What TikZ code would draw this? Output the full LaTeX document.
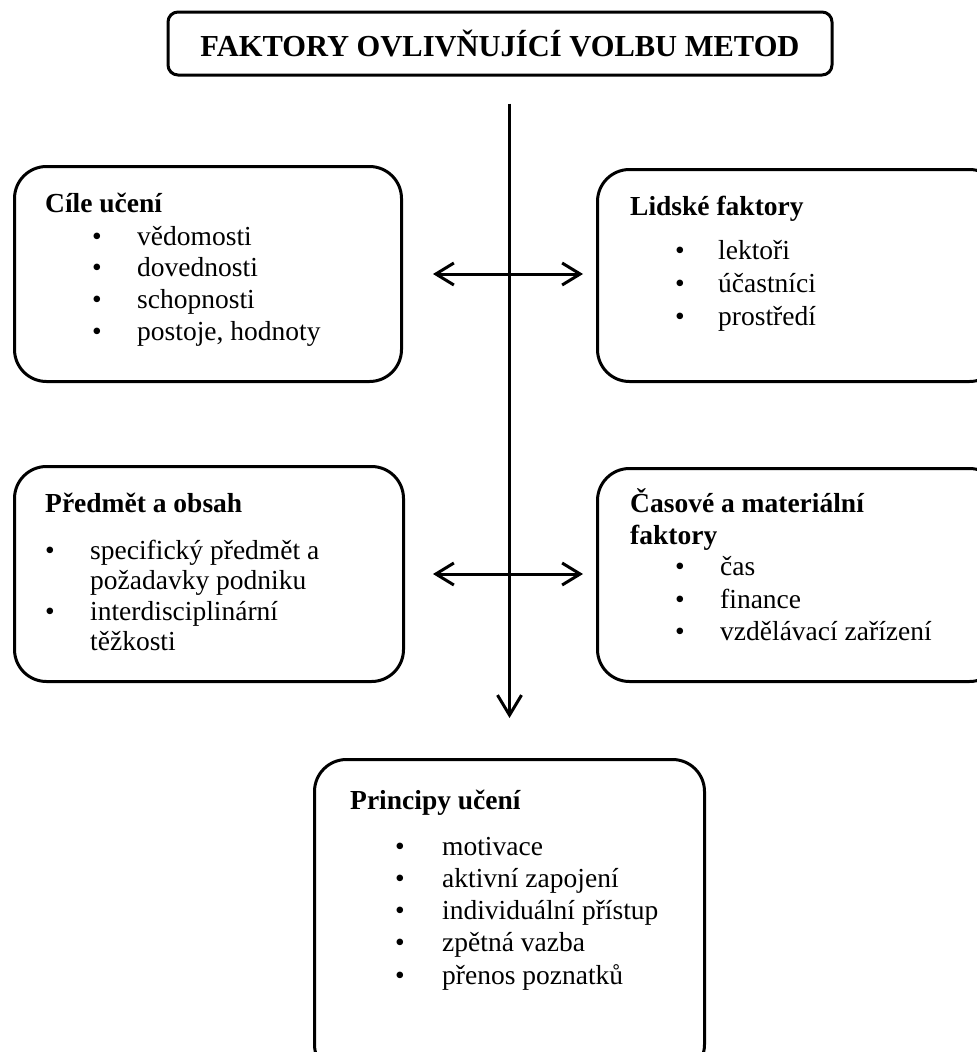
\documentclass[tikz,border=0pt]{standalone}
\usepackage{fontspec}
\setmainfont{Liberation Serif}
\usetikzlibrary{arrows.meta,positioning}

\tikzset{
	box/.style={draw, line width=3pt, rounded corners=32pt, anchor=north west, inner sep=0pt},
	titlebox/.style={draw, line width=3pt, rounded corners=10pt, inner sep=0pt, font=\fontsize{30.5}{36}\selectfont\bfseries},
	head/.style={anchor=base west, inner sep=0pt, font=\fontsize{27.5}{32}\selectfont\bfseries},
	entry/.style={anchor=base west, inner sep=0pt},
	dot/.style={anchor=base west, inner sep=0pt},
	link/.style={line width=3pt, {Straight Barb[length=18pt,width=22pt]}-{Straight Barb[length=18pt,width=22pt]}},
	flow/.style={line width=3pt, -{Straight Barb[length=20pt,width=24pt]}}
}

\begin{document}
\begin{tikzpicture}[x=1pt, y=-1pt, font=\fontsize{27.5}{32}\selectfont]
	% Page frame
	\useasboundingbox (0,0) rectangle (977,1052);
	\clip (0,0) rectangle (977,1052);

	% Title
	\node[titlebox, minimum width=664pt, minimum height=63pt] (title) at (500,43.5) {FAKTORY OVLIVŇUJÍCÍ VOLBU METOD};

	% Cíle učení
	\node[box, minimum width=387pt, minimum height=215pt] (goals) at (13,165) {};
	\node[head] (goals-head) at (45,212) {Cíle učení};
	\foreach \t [count=\i] in {vědomosti, dovednosti, schopnosti, {postoje, hodnoty}} {
		\node[dot] (goals-dot-\i) at (92,{213.3+31.7*\i}) {•};
		\node[entry] (goals-item-\i) at (137,{213.3+31.7*\i}) {\t};
	}

	% Lidské faktory
	\node[box, minimum width=404pt, minimum height=212pt] (people) at (596,168) {};
	\node[head] (people-head) at (630,215) {Lidské faktory};
	\foreach \t [count=\i] in {lektoři, účastníci, prostředí} {
		\node[dot] (people-dot-\i) at (675,{226+33*\i}) {•};
		\node[entry] (people-item-\i) at (718,{226+33*\i}) {\t};
	}

	% Předmět a obsah
	\node[box, minimum width=389pt, minimum height=215pt] (content) at (13,465) {};
	\node[head] (content-head) at (45,512) {Předmět a obsah};
	\node[dot] (content-dot-1) at (45,559) {•};
	\node[entry] (content-item-1a) at (90,559) {specifický předmět a};
	\node[entry] (content-item-1b) at (90,589) {požadavky podniku};
	\node[dot] (content-dot-2) at (45,620) {•};
	\node[entry] (content-item-2a) at (90,620) {interdisciplinární};
	\node[entry] (content-item-2b) at (90,650) {těžkosti};

	% Časové a materiální faktory
	\node[box, minimum width=404pt, minimum height=213pt] (means) at (596,467) {};
	\node[head] (means-head-a) at (630,512) {Časové a materiální};
	\node[head] (means-head-b) at (630,544) {faktory};
	\foreach \t [count=\i] in {čas, finance, vzdělávací zařízení} {
		\node[dot] (means-dot-\i) at (675,{543+32.5*\i}) {•};
		\node[entry] (means-item-\i) at (720,{543+32.5*\i}) {\t};
	}

	% Principy učení
	\node[box, minimum width=390pt, minimum height=317pt] (rules) at (313,758) {};
	\node[head] (rules-head) at (350,809) {Principy učení};
	\foreach \t [count=\i] in {motivace, aktivní zapojení, individuální přístup, zpětná vazba, přenos poznatků} {
		\node[dot] (rules-dot-\i) at (395,{823+32.2*\i}) {•};
		\node[entry] (rules-item-\i) at (442,{823+32.2*\i}) {\t};
	}

	% Connectors
	\draw[flow, shorten <=27pt, shorten >=40pt] (rules.north |- title.south) -- (rules.north);
	\draw[link, shorten <=30pt, shorten >=13pt] (goals.east) -- (goals.east -| people.west);
	\draw[link, shorten <=28pt, shorten >=13pt] (content.east) -- (content.east -| means.west);
\end{tikzpicture}
\end{document}
